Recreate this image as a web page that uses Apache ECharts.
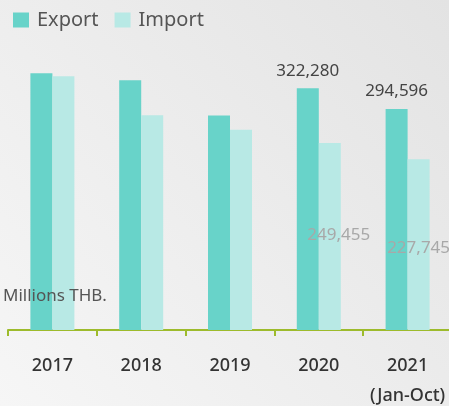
<!DOCTYPE html>
<html>
<head>
<meta charset="utf-8">
<script src="https://cdn.jsdelivr.net/npm/echarts@6/dist/echarts.min.js"></script>
<style>
    html, body { margin: 0; padding: 0; }
    #chart { width: 449px; height: 406px; }
</style>
</head>
<body>
<div id="chart"></div>
<script>
// 数据
const years = ['2017', '2018', '2019', '2020', '2021\n(Jan-Oct)'];
const exportValues = [342300, 333000, 286000, 322280, 294596];
const importValues = [338300, 286400, 267000, 249455, 227745];
// 只有 2020 / 2021 显示数值
const showLabel = [false, false, false, true, true];
const importLabelOffset = [[0, 0], [0, 0], [0, 0], [9, 101], [0, 97]];

const chart = echarts.init(document.getElementById('chart'));

const fmt = p => p.value.toLocaleString('en-US');

const exportData = exportValues.map((v, i) => ({
    value: v,
    label: { show: showLabel[i] }
}));
const importData = importValues.map((v, i) => ({
    value: v,
    label: { show: showLabel[i], offset: importLabelOffset[i] }
}));

const option = {
    backgroundColor: {
        type: 'linear', x: 1, y: 0, x2: 0, y2: 1,
        colorStops: [
            { offset: 0, color: '#e3e3e3' },
            { offset: 1, color: '#f6f6f6' }
        ]
    },
    textStyle: { fontFamily: 'Noto Sans' },
    legend: {
        left: 8,
        top: 5,
        itemWidth: 16,
        itemHeight: 15,
        itemGap: 16,
        icon: 'rect',
        textStyle: { fontSize: 20, color: '#555', padding: [0, 0, 0, 3] },
        data: ['Export', 'Import']
    },
    grid: { left: 8, width: 444, top: 30, bottom: 76, outerBoundsMode: 'none', containLabel: false },
    xAxis: {
        type: 'category',
        data: years,
        axisLine: { lineStyle: { color: '#9dbb2c', width: 2 } },
        axisTick: { show: true, interval: 0, length: 6, inside: false, lineStyle: { color: '#9dbb2c', width: 2 } },
        axisLabel: {
            interval: 0,
            hideOverlap: false,
            color: '#333',
            fontSize: 18,
            margin: 21,
            lineHeight: 30,
            fontWeight: 500
        }
    },
    yAxis: {
        type: 'value',
        min: 0,
        max: 400000,
        show: false,
        splitLine: { show: false }
    },
    graphic: [{
        type: 'text',
        left: 3,
        top: 288,
        z: 100,
        style: { text: 'Millions THB.', fontSize: 17, fill: '#555', fontFamily: 'Noto Sans' }
    }],
    series: [
        {
            name: 'Export',
            type: 'bar',
            barWidth: 22,
            barGap: '0%',
            itemStyle: { color: '#68d3c9' },
            label: {
                position: 'top',
                distance: 9,
                fontSize: 17,
                color: '#444',
                formatter: fmt
            },
            data: exportData
        },
        {
            name: 'Import',
            type: 'bar',
            barWidth: 22,
            itemStyle: { color: '#b8e9e5' },
            label: {
                position: 'top',
                distance: 0,
                fontSize: 17,
                color: '#a8a8a8',
                formatter: fmt
            },
            data: importData
        }
    ]
};

chart.setOption(option);
</script>
</body>
</html>
